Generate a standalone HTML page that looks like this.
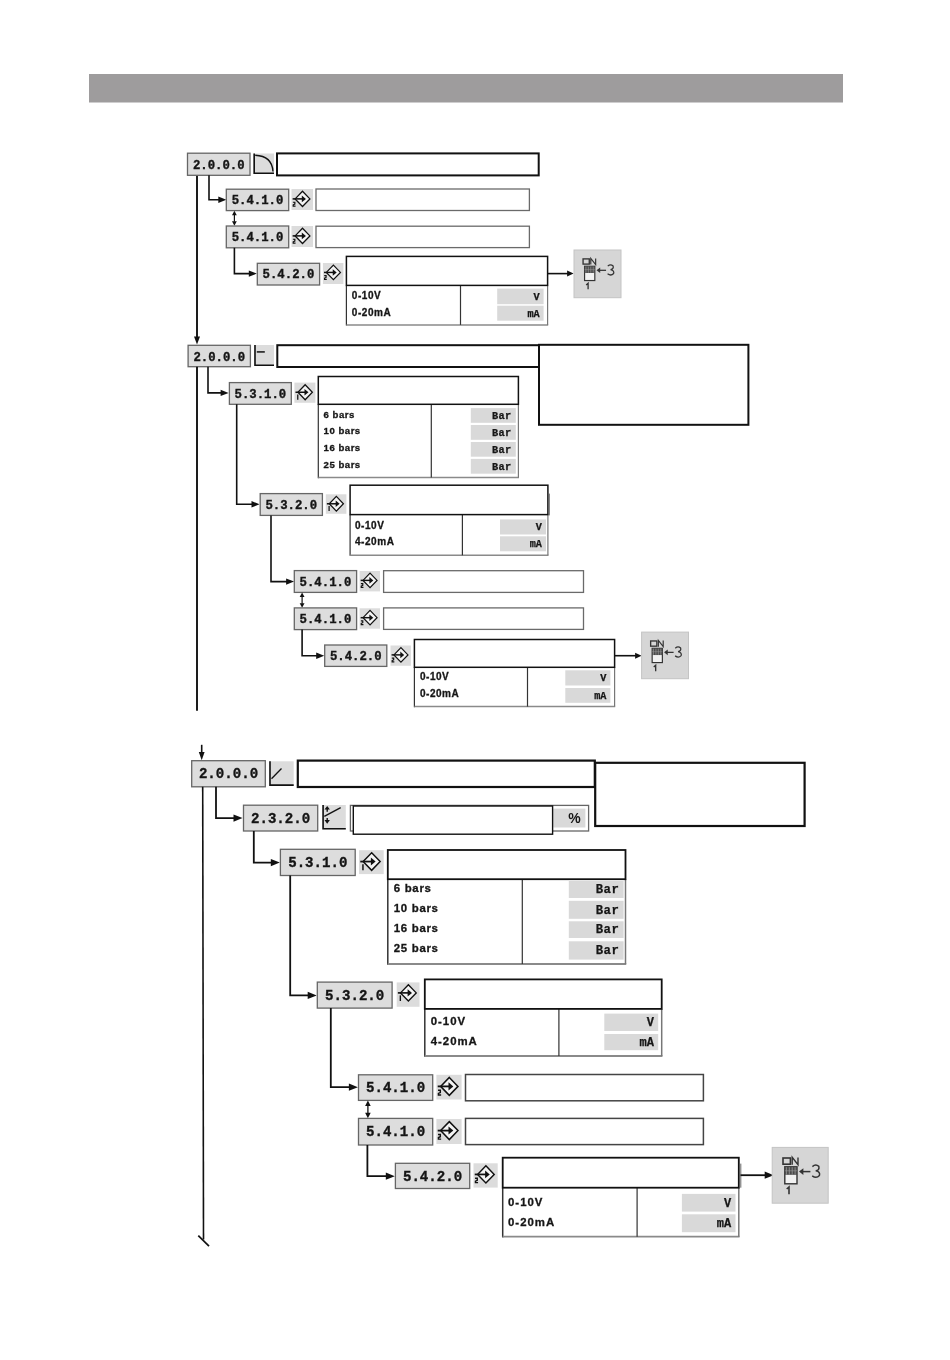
<!DOCTYPE html><html><head><meta charset="utf-8"><style>html,body{margin:0;padding:0;background:#fff;}svg{display:block;will-change:transform;}</style></head><body>
<svg width="950" height="1360" viewBox="0 0 950 1360">
<rect x="0.00" y="0.00" width="950.00" height="1360.00" fill="#ffffff" stroke="none" stroke-width="1.0"/>
<rect x="89.00" y="74.00" width="754.00" height="28.50" fill="#9e9c9d" stroke="none" stroke-width="1.0"/>
<line x1="197.00" y1="175.00" x2="197.00" y2="337.00" stroke="#111" stroke-width="1.9"/>
<polygon points="197.00,344.60 194.00,336.60 200.00,336.60" fill="#111"/>
<rect x="187.50" y="153.20" width="62.50" height="22.10" fill="#dddddd" stroke="#666666" stroke-width="1.3"/>
<text x="218.75" y="168.80" font-family='"Liberation Mono", monospace' font-size="12.3" font-weight="bold" text-anchor="middle" letter-spacing="0.0" fill="#151515" stroke="#151515" stroke-width="0.35">2.0.0.0</text>
<rect x="253.20" y="153.50" width="20.80" height="20.50" fill="#dcdcdc" stroke="none" stroke-width="1.0"/>
<path d="M254.20,153.50 L254.20,173.20 L274.00,173.20" fill="none" stroke="#111" stroke-width="1.6"/>
<path d="M255.20,155.30 Q272.00,156.00 273.00,171.50" fill="none" stroke="#111" stroke-width="1.4"/>
<rect x="277.00" y="153.40" width="261.70" height="22.00" fill="#fff" stroke="#111" stroke-width="2.0"/>
<polyline points="209.00,175.30 209.00,199.80 219.30,199.80" fill="none" stroke="#111" stroke-width="1.6"/>
<polygon points="226.30,199.80 218.30,196.60 218.30,203.00" fill="#111"/>
<rect x="226.30" y="189.20" width="62.40" height="21.40" fill="#dddddd" stroke="#666666" stroke-width="1.3"/>
<text x="257.50" y="204.20" font-family='"Liberation Mono", monospace' font-size="12.3" font-weight="bold" text-anchor="middle" letter-spacing="0.0" fill="#151515" stroke="#151515" stroke-width="0.35">5.4.1.0</text>
<rect x="291.50" y="189.00" width="21.50" height="21.00" fill="#dcdcdc" stroke="none" stroke-width="1.0"/>
<polygon points="302.51,191.24 309.90,198.89 302.51,206.54 295.11,198.89" fill="#f4f4f4" stroke="#111" stroke-width="1.29"/>
<line x1="292.62" y1="198.89" x2="302.68" y2="198.89" stroke="#111" stroke-width="1.548"/>
<polygon points="305.95,198.89 301.82,195.45 301.82,202.33" fill="#111"/>
<path d="M292.88,202.24 L294.85,202.24 L294.85,204.14 L293.22,204.82 L293.22,206.20 L295.54,206.20" fill="none" stroke="#111" stroke-width="1.20"/>
<rect x="316.00" y="189.00" width="213.40" height="21.50" fill="#fff" stroke="#6a6a6a" stroke-width="1.3"/>
<line x1="234.40" y1="214.80" x2="234.40" y2="221.80" stroke="#111" stroke-width="1.2"/>
<polygon points="234.40,210.80 232.00,215.30 236.80,215.30" fill="#111"/>
<polygon points="234.40,225.80 232.00,221.30 236.80,221.30" fill="#111"/>
<rect x="226.30" y="226.00" width="62.40" height="21.80" fill="#dddddd" stroke="#666666" stroke-width="1.3"/>
<text x="257.50" y="241.00" font-family='"Liberation Mono", monospace' font-size="12.3" font-weight="bold" text-anchor="middle" letter-spacing="0.0" fill="#151515" stroke="#151515" stroke-width="0.35">5.4.1.0</text>
<rect x="291.50" y="226.00" width="21.50" height="21.00" fill="#dcdcdc" stroke="none" stroke-width="1.0"/>
<polygon points="302.51,228.24 309.90,235.89 302.51,243.54 295.11,235.89" fill="#f4f4f4" stroke="#111" stroke-width="1.29"/>
<line x1="292.62" y1="235.89" x2="302.68" y2="235.89" stroke="#111" stroke-width="1.548"/>
<polygon points="305.95,235.89 301.82,232.45 301.82,239.33" fill="#111"/>
<path d="M292.88,239.24 L294.85,239.24 L294.85,241.14 L293.22,241.82 L293.22,243.20 L295.54,243.20" fill="none" stroke="#111" stroke-width="1.20"/>
<rect x="316.00" y="226.20" width="213.40" height="21.40" fill="#fff" stroke="#6a6a6a" stroke-width="1.3"/>
<polyline points="234.40,247.80 234.40,273.60 249.80,273.60" fill="none" stroke="#111" stroke-width="1.6"/>
<polygon points="256.80,273.60 248.80,270.40 248.80,276.80" fill="#111"/>
<rect x="257.30" y="263.30" width="62.30" height="21.70" fill="#dddddd" stroke="#666666" stroke-width="1.3"/>
<text x="288.45" y="278.30" font-family='"Liberation Mono", monospace' font-size="12.3" font-weight="bold" text-anchor="middle" letter-spacing="0.0" fill="#151515" stroke="#151515" stroke-width="0.35">5.4.2.0</text>
<rect x="322.90" y="263.00" width="20.50" height="21.00" fill="#dcdcdc" stroke="none" stroke-width="1.0"/>
<polygon points="333.40,265.13 340.45,272.43 333.40,279.73 326.34,272.43" fill="#f4f4f4" stroke="#111" stroke-width="1.23"/>
<line x1="323.97" y1="272.43" x2="333.56" y2="272.43" stroke="#111" stroke-width="1.476"/>
<polygon points="336.68,272.43 332.74,269.15 332.74,275.71" fill="#111"/>
<path d="M324.21,275.63 L326.10,275.63 L326.10,277.43 L324.54,278.09 L324.54,279.40 L326.75,279.40" fill="none" stroke="#111" stroke-width="1.15"/>
<rect x="346.40" y="285.40" width="201.20" height="39.50" fill="#fff" stroke="none" stroke-width="0"/>
<line x1="346.40" y1="285.40" x2="346.40" y2="325.50" stroke="#333" stroke-width="1.2"/>
<line x1="346.40" y1="324.90" x2="548.20" y2="324.90" stroke="#8a8a8a" stroke-width="1.5"/>
<line x1="547.60" y1="285.40" x2="547.60" y2="324.90" stroke="#777" stroke-width="1.2"/>
<line x1="460.50" y1="285.40" x2="460.50" y2="324.90" stroke="#333" stroke-width="1.2"/>
<rect x="346.40" y="256.40" width="201.20" height="29.00" fill="#fff" stroke="#111" stroke-width="1.5"/>
<text x="351.80" y="298.60" font-family='"Liberation Sans", sans-serif' font-size="10.0" font-weight="bold" text-anchor="start" letter-spacing="0.55" fill="#161616" stroke="#161616" stroke-width="0.3">0-10V</text>
<text x="351.80" y="315.60" font-family='"Liberation Sans", sans-serif' font-size="10.0" font-weight="bold" text-anchor="start" letter-spacing="0.55" fill="#161616" stroke="#161616" stroke-width="0.3">0-20mA</text>
<rect x="497.20" y="288.60" width="46.40" height="15.60" fill="#d9d9d9" stroke="none" stroke-width="1.0"/>
<text x="539.30" y="299.83" font-family='"Liberation Mono", monospace' font-size="10.2" font-weight="bold" text-anchor="end" letter-spacing="-0.2" fill="#161616" stroke="#161616" stroke-width="0.25">V</text>
<rect x="497.20" y="305.70" width="46.40" height="15.00" fill="#d9d9d9" stroke="none" stroke-width="1.0"/>
<text x="539.30" y="316.50" font-family='"Liberation Mono", monospace' font-size="10.2" font-weight="bold" text-anchor="end" letter-spacing="-0.2" fill="#161616" stroke="#161616" stroke-width="0.25">mA</text>
<line x1="547.60" y1="273.60" x2="568.00" y2="273.60" stroke="#111" stroke-width="1.6"/>
<polygon points="573.60,273.60 567.10,270.60 567.10,276.60" fill="#111"/>
<rect x="574.00" y="250.00" width="47.00" height="47.70" fill="#d6d6d6" stroke="#c4c4c4" stroke-width="1.0"/>
<g transform="translate(574.00,250.00) scale(0.8393)">
<rect x="10.8" y="10.6" width="7.4" height="6.2" fill="none" stroke="#333" stroke-width="1.6"/>
<path d="M20.0,17.4 L20.0,10.0 L25.8,17.4 L25.8,10.0" fill="none" stroke="#333" stroke-width="1.4"/>
<rect x="12.6" y="19.4" width="12.2" height="17.0" fill="#f2f2f2" stroke="#333" stroke-width="1.4"/>
<rect x="12.6" y="19.4" width="12.2" height="8.0" fill="#4a4a4a"/>
<line x1="14.2" y1="19.8" x2="14.2" y2="27.2" stroke="#9a9a9a" stroke-width="0.8"/>
<line x1="17.1" y1="19.8" x2="17.1" y2="27.2" stroke="#9a9a9a" stroke-width="0.8"/>
<line x1="20.0" y1="19.8" x2="20.0" y2="27.2" stroke="#9a9a9a" stroke-width="0.8"/>
<line x1="22.9" y1="19.8" x2="22.9" y2="27.2" stroke="#9a9a9a" stroke-width="0.8"/>
<line x1="12.6" y1="23.4" x2="24.8" y2="23.4" stroke="#9a9a9a" stroke-width="0.6"/>
<line x1="29.5" y1="24.2" x2="38.2" y2="24.2" stroke="#333" stroke-width="1.5"/>
<polygon points="26.8,24.2 31.2,20.9 31.2,27.5" fill="#333"/>
<path d="M40.2,19.2 Q43.5,16.2 46.6,19.0 Q47.6,22.6 43.6,23.4 Q48.4,24.4 47.2,28.0 Q44.2,31.4 40.0,28.4" fill="none" stroke="#333" stroke-width="1.5"/>
<path d="M14.5,41.6 L16.8,39.6 L16.8,46.8" fill="none" stroke="#333" stroke-width="1.6"/>
</g>
<rect x="188.10" y="345.30" width="62.30" height="21.40" fill="#dddddd" stroke="#666666" stroke-width="1.3"/>
<text x="219.25" y="360.70" font-family='"Liberation Mono", monospace' font-size="12.3" font-weight="bold" text-anchor="middle" letter-spacing="0.0" fill="#151515" stroke="#151515" stroke-width="0.35">2.0.0.0</text>
<rect x="254.00" y="345.00" width="20.00" height="21.00" fill="#dcdcdc" stroke="none" stroke-width="1.0"/>
<path d="M255.00,345.00 L255.00,365.20 L274.00,365.20" fill="none" stroke="#111" stroke-width="1.6"/>
<line x1="256.80" y1="351.90" x2="264.80" y2="351.90" stroke="#333" stroke-width="1.8"/>
<rect x="277.30" y="345.20" width="261.70" height="21.80" fill="#fff" stroke="#111" stroke-width="2.0"/>
<rect x="539.00" y="344.80" width="209.40" height="80.00" fill="#fff" stroke="#111" stroke-width="2.0"/>
<line x1="197.00" y1="366.70" x2="197.00" y2="710.70" stroke="#111" stroke-width="1.9"/>
<polyline points="208.00,366.70 208.00,392.90 221.60,392.90" fill="none" stroke="#111" stroke-width="1.6"/>
<polygon points="228.60,392.90 220.60,389.70 220.60,396.10" fill="#111"/>
<rect x="229.40" y="382.60" width="61.90" height="21.70" fill="#dddddd" stroke="#666666" stroke-width="1.3"/>
<text x="260.35" y="397.80" font-family='"Liberation Mono", monospace' font-size="12.3" font-weight="bold" text-anchor="middle" letter-spacing="0.0" fill="#151515" stroke="#151515" stroke-width="0.35">5.3.1.0</text>
<rect x="294.40" y="382.60" width="21.00" height="20.20" fill="#dcdcdc" stroke="none" stroke-width="1.0"/>
<polygon points="305.15,384.78 312.38,392.26 305.15,399.74 297.93,392.26" fill="#f4f4f4" stroke="#111" stroke-width="1.26"/>
<line x1="295.49" y1="392.26" x2="305.32" y2="392.26" stroke="#111" stroke-width="1.512"/>
<polygon points="308.51,392.26 304.48,388.90 304.48,395.62" fill="#111"/>
<line x1="297.76" y1="394.53" x2="297.76" y2="399.74" stroke="#111" stroke-width="1.26"/>
<rect x="318.30" y="404.30" width="200.10" height="73.30" fill="#fff" stroke="none" stroke-width="0"/>
<line x1="318.30" y1="404.30" x2="318.30" y2="478.20" stroke="#333" stroke-width="1.2"/>
<line x1="318.30" y1="477.60" x2="519.00" y2="477.60" stroke="#8a8a8a" stroke-width="1.5"/>
<line x1="518.40" y1="404.30" x2="518.40" y2="477.60" stroke="#777" stroke-width="1.2"/>
<line x1="431.30" y1="404.30" x2="431.30" y2="477.60" stroke="#333" stroke-width="1.2"/>
<rect x="318.30" y="376.50" width="200.10" height="27.80" fill="#fff" stroke="#111" stroke-width="1.5"/>
<text x="323.60" y="417.80" font-family='"Liberation Sans", sans-serif' font-size="9.6" font-weight="bold" text-anchor="start" letter-spacing="0.5" fill="#161616" stroke="#161616" stroke-width="0.3">6 bars</text>
<text x="323.60" y="434.40" font-family='"Liberation Sans", sans-serif' font-size="9.6" font-weight="bold" text-anchor="start" letter-spacing="0.5" fill="#161616" stroke="#161616" stroke-width="0.3">10 bars</text>
<text x="323.60" y="451.40" font-family='"Liberation Sans", sans-serif' font-size="9.6" font-weight="bold" text-anchor="start" letter-spacing="0.5" fill="#161616" stroke="#161616" stroke-width="0.3">16 bars</text>
<text x="323.60" y="467.60" font-family='"Liberation Sans", sans-serif' font-size="9.6" font-weight="bold" text-anchor="start" letter-spacing="0.5" fill="#161616" stroke="#161616" stroke-width="0.3">25 bars</text>
<rect x="470.80" y="408.10" width="45.00" height="14.70" fill="#d9d9d9" stroke="none" stroke-width="1.0"/>
<text x="511.50" y="418.68" font-family='"Liberation Mono", monospace' font-size="10.3" font-weight="bold" text-anchor="end" letter-spacing="0.3" fill="#161616" stroke="#161616" stroke-width="0.25">Bar</text>
<rect x="470.80" y="425.00" width="45.00" height="14.80" fill="#d9d9d9" stroke="none" stroke-width="1.0"/>
<text x="511.50" y="435.66" font-family='"Liberation Mono", monospace' font-size="10.3" font-weight="bold" text-anchor="end" letter-spacing="0.3" fill="#161616" stroke="#161616" stroke-width="0.25">Bar</text>
<rect x="470.80" y="442.00" width="45.00" height="14.70" fill="#d9d9d9" stroke="none" stroke-width="1.0"/>
<text x="511.50" y="452.58" font-family='"Liberation Mono", monospace' font-size="10.3" font-weight="bold" text-anchor="end" letter-spacing="0.3" fill="#161616" stroke="#161616" stroke-width="0.25">Bar</text>
<rect x="470.80" y="458.90" width="45.00" height="14.80" fill="#d9d9d9" stroke="none" stroke-width="1.0"/>
<text x="511.50" y="469.56" font-family='"Liberation Mono", monospace' font-size="10.3" font-weight="bold" text-anchor="end" letter-spacing="0.3" fill="#161616" stroke="#161616" stroke-width="0.25">Bar</text>
<polyline points="236.70,404.30 236.70,504.30 252.50,504.30" fill="none" stroke="#111" stroke-width="1.6"/>
<polygon points="259.50,504.30 251.50,501.10 251.50,507.50" fill="#111"/>
<rect x="260.20" y="493.60" width="62.20" height="21.80" fill="#dddddd" stroke="#666666" stroke-width="1.3"/>
<text x="291.30" y="508.80" font-family='"Liberation Mono", monospace' font-size="12.3" font-weight="bold" text-anchor="middle" letter-spacing="0.0" fill="#151515" stroke="#151515" stroke-width="0.35">5.3.2.0</text>
<rect x="325.80" y="494.30" width="20.60" height="19.50" fill="#dcdcdc" stroke="none" stroke-width="1.0"/>
<polygon points="336.35,496.44 343.43,503.78 336.35,511.11 329.26,503.78" fill="#f4f4f4" stroke="#111" stroke-width="1.24"/>
<line x1="326.87" y1="503.78" x2="336.51" y2="503.78" stroke="#111" stroke-width="1.4831999999999976"/>
<polygon points="339.64,503.78 335.69,500.48 335.69,507.07" fill="#111"/>
<line x1="329.10" y1="506.00" x2="329.10" y2="511.11" stroke="#111" stroke-width="1.235999999999998"/>
<line x1="549.40" y1="493.60" x2="549.40" y2="515.40" stroke="#777" stroke-width="1.0"/>
<rect x="350.10" y="514.60" width="197.80" height="40.60" fill="#fff" stroke="none" stroke-width="0"/>
<line x1="350.10" y1="514.60" x2="350.10" y2="555.80" stroke="#333" stroke-width="1.2"/>
<line x1="350.10" y1="555.20" x2="548.50" y2="555.20" stroke="#8a8a8a" stroke-width="1.5"/>
<line x1="547.90" y1="514.60" x2="547.90" y2="555.20" stroke="#777" stroke-width="1.2"/>
<line x1="462.40" y1="514.60" x2="462.40" y2="555.20" stroke="#333" stroke-width="1.2"/>
<rect x="350.10" y="485.20" width="197.80" height="29.40" fill="#fff" stroke="#111" stroke-width="1.5"/>
<text x="355.00" y="528.90" font-family='"Liberation Sans", sans-serif' font-size="10.0" font-weight="bold" text-anchor="start" letter-spacing="0.55" fill="#161616" stroke="#161616" stroke-width="0.3">0-10V</text>
<text x="355.00" y="545.40" font-family='"Liberation Sans", sans-serif' font-size="10.0" font-weight="bold" text-anchor="start" letter-spacing="0.55" fill="#161616" stroke="#161616" stroke-width="0.3">4-20mA</text>
<rect x="500.00" y="519.40" width="46.00" height="15.10" fill="#d9d9d9" stroke="none" stroke-width="1.0"/>
<text x="541.70" y="530.27" font-family='"Liberation Mono", monospace' font-size="10.2" font-weight="bold" text-anchor="end" letter-spacing="-0.2" fill="#161616" stroke="#161616" stroke-width="0.25">V</text>
<rect x="500.00" y="536.30" width="46.00" height="15.00" fill="#d9d9d9" stroke="none" stroke-width="1.0"/>
<text x="541.70" y="547.10" font-family='"Liberation Mono", monospace' font-size="10.2" font-weight="bold" text-anchor="end" letter-spacing="-0.2" fill="#161616" stroke="#161616" stroke-width="0.25">mA</text>
<polyline points="271.00,515.40 271.00,581.60 287.10,581.60" fill="none" stroke="#111" stroke-width="1.6"/>
<polygon points="294.10,581.60 286.10,578.40 286.10,584.80" fill="#111"/>
<rect x="294.30" y="570.60" width="62.30" height="21.80" fill="#dddddd" stroke="#666666" stroke-width="1.3"/>
<text x="325.45" y="585.60" font-family='"Liberation Mono", monospace' font-size="12.3" font-weight="bold" text-anchor="middle" letter-spacing="0.0" fill="#151515" stroke="#151515" stroke-width="0.35">5.4.1.0</text>
<rect x="359.60" y="571.00" width="20.40" height="20.40" fill="#dcdcdc" stroke="none" stroke-width="1.0"/>
<polygon points="370.04,573.12 377.06,580.38 370.04,587.65 363.03,580.38" fill="#f4f4f4" stroke="#111" stroke-width="1.22"/>
<line x1="360.66" y1="580.38" x2="370.21" y2="580.38" stroke="#111" stroke-width="1.4687999999999983"/>
<polygon points="373.31,580.38 369.39,577.12 369.39,583.65" fill="#111"/>
<path d="M360.91,583.57 L362.78,583.57 L362.78,585.36 L361.23,586.01 L361.23,587.32 L363.44,587.32" fill="none" stroke="#111" stroke-width="1.14"/>
<rect x="383.60" y="570.70" width="199.90" height="21.70" fill="#fff" stroke="#6a6a6a" stroke-width="1.3"/>
<line x1="302.10" y1="596.60" x2="302.10" y2="603.70" stroke="#111" stroke-width="1.2"/>
<polygon points="302.10,592.60 299.70,597.10 304.50,597.10" fill="#111"/>
<polygon points="302.10,607.70 299.70,603.20 304.50,603.20" fill="#111"/>
<rect x="294.30" y="607.90" width="62.30" height="21.70" fill="#dddddd" stroke="#666666" stroke-width="1.3"/>
<text x="325.45" y="622.90" font-family='"Liberation Mono", monospace' font-size="12.3" font-weight="bold" text-anchor="middle" letter-spacing="0.0" fill="#151515" stroke="#151515" stroke-width="0.35">5.4.1.0</text>
<rect x="359.60" y="608.30" width="20.40" height="20.40" fill="#dcdcdc" stroke="none" stroke-width="1.0"/>
<polygon points="370.04,610.42 377.06,617.68 370.04,624.95 363.03,617.68" fill="#f4f4f4" stroke="#111" stroke-width="1.22"/>
<line x1="360.66" y1="617.68" x2="370.21" y2="617.68" stroke="#111" stroke-width="1.4687999999999983"/>
<polygon points="373.31,617.68 369.39,614.42 369.39,620.95" fill="#111"/>
<path d="M360.91,620.87 L362.78,620.87 L362.78,622.66 L361.23,623.31 L361.23,624.62 L363.44,624.62" fill="none" stroke="#111" stroke-width="1.14"/>
<rect x="383.60" y="607.90" width="199.90" height="21.50" fill="#fff" stroke="#6a6a6a" stroke-width="1.3"/>
<polyline points="302.10,629.60 302.10,655.80 317.20,655.80" fill="none" stroke="#111" stroke-width="1.6"/>
<polygon points="324.20,655.80 316.20,652.60 316.20,659.00" fill="#111"/>
<rect x="324.70" y="645.00" width="62.10" height="21.40" fill="#dddddd" stroke="#666666" stroke-width="1.3"/>
<text x="355.75" y="660.00" font-family='"Liberation Mono", monospace' font-size="12.3" font-weight="bold" text-anchor="middle" letter-spacing="0.0" fill="#151515" stroke="#151515" stroke-width="0.35">5.4.2.0</text>
<rect x="390.50" y="645.50" width="20.40" height="20.30" fill="#dcdcdc" stroke="none" stroke-width="1.0"/>
<polygon points="400.94,647.62 407.96,654.88 400.94,662.15 393.93,654.88" fill="#f4f4f4" stroke="#111" stroke-width="1.22"/>
<line x1="391.56" y1="654.88" x2="401.11" y2="654.88" stroke="#111" stroke-width="1.4687999999999983"/>
<polygon points="404.21,654.88 400.29,651.62 400.29,658.15" fill="#111"/>
<path d="M391.81,658.07 L393.68,658.07 L393.68,659.86 L392.13,660.51 L392.13,661.82 L394.34,661.82" fill="none" stroke="#111" stroke-width="1.14"/>
<rect x="414.40" y="667.30" width="200.20" height="39.30" fill="#fff" stroke="none" stroke-width="0"/>
<line x1="414.40" y1="667.30" x2="414.40" y2="707.20" stroke="#333" stroke-width="1.2"/>
<line x1="414.40" y1="706.60" x2="615.20" y2="706.60" stroke="#8a8a8a" stroke-width="1.5"/>
<line x1="614.60" y1="667.30" x2="614.60" y2="706.60" stroke="#777" stroke-width="1.2"/>
<line x1="527.50" y1="667.30" x2="527.50" y2="706.60" stroke="#333" stroke-width="1.2"/>
<rect x="414.40" y="639.50" width="200.20" height="27.80" fill="#fff" stroke="#111" stroke-width="1.5"/>
<text x="419.90" y="680.10" font-family='"Liberation Sans", sans-serif' font-size="10.0" font-weight="bold" text-anchor="start" letter-spacing="0.55" fill="#161616" stroke="#161616" stroke-width="0.3">0-10V</text>
<text x="419.90" y="697.00" font-family='"Liberation Sans", sans-serif' font-size="10.0" font-weight="bold" text-anchor="start" letter-spacing="0.55" fill="#161616" stroke="#161616" stroke-width="0.3">0-20mA</text>
<rect x="565.30" y="670.30" width="45.10" height="15.20" fill="#d9d9d9" stroke="none" stroke-width="1.0"/>
<text x="606.10" y="681.24" font-family='"Liberation Mono", monospace' font-size="10.2" font-weight="bold" text-anchor="end" letter-spacing="-0.2" fill="#161616" stroke="#161616" stroke-width="0.25">V</text>
<rect x="565.30" y="688.00" width="45.10" height="14.80" fill="#d9d9d9" stroke="none" stroke-width="1.0"/>
<text x="606.10" y="698.66" font-family='"Liberation Mono", monospace' font-size="10.2" font-weight="bold" text-anchor="end" letter-spacing="-0.2" fill="#161616" stroke="#161616" stroke-width="0.25">mA</text>
<line x1="614.60" y1="655.70" x2="636.00" y2="655.70" stroke="#111" stroke-width="1.6"/>
<polygon points="641.60,655.70 635.10,652.70 635.10,658.70" fill="#111"/>
<rect x="641.60" y="632.10" width="46.90" height="46.60" fill="#d6d6d6" stroke="#c4c4c4" stroke-width="1.0"/>
<g transform="translate(641.60,632.10) scale(0.8375)">
<rect x="10.8" y="10.6" width="7.4" height="6.2" fill="none" stroke="#333" stroke-width="1.6"/>
<path d="M20.0,17.4 L20.0,10.0 L25.8,17.4 L25.8,10.0" fill="none" stroke="#333" stroke-width="1.4"/>
<rect x="12.6" y="19.4" width="12.2" height="17.0" fill="#f2f2f2" stroke="#333" stroke-width="1.4"/>
<rect x="12.6" y="19.4" width="12.2" height="8.0" fill="#4a4a4a"/>
<line x1="14.2" y1="19.8" x2="14.2" y2="27.2" stroke="#9a9a9a" stroke-width="0.8"/>
<line x1="17.1" y1="19.8" x2="17.1" y2="27.2" stroke="#9a9a9a" stroke-width="0.8"/>
<line x1="20.0" y1="19.8" x2="20.0" y2="27.2" stroke="#9a9a9a" stroke-width="0.8"/>
<line x1="22.9" y1="19.8" x2="22.9" y2="27.2" stroke="#9a9a9a" stroke-width="0.8"/>
<line x1="12.6" y1="23.4" x2="24.8" y2="23.4" stroke="#9a9a9a" stroke-width="0.6"/>
<line x1="29.5" y1="24.2" x2="38.2" y2="24.2" stroke="#333" stroke-width="1.5"/>
<polygon points="26.8,24.2 31.2,20.9 31.2,27.5" fill="#333"/>
<path d="M40.2,19.2 Q43.5,16.2 46.6,19.0 Q47.6,22.6 43.6,23.4 Q48.4,24.4 47.2,28.0 Q44.2,31.4 40.0,28.4" fill="none" stroke="#333" stroke-width="1.5"/>
<path d="M14.5,41.6 L16.8,39.6 L16.8,46.8" fill="none" stroke="#333" stroke-width="1.6"/>
</g>
<line x1="201.70" y1="744.80" x2="201.70" y2="754.00" stroke="#111" stroke-width="1.6"/>
<polygon points="201.70,760.30 198.80,751.90 204.60,751.90" fill="#111"/>
<rect x="191.70" y="760.70" width="73.60" height="26.10" fill="#dddddd" stroke="#666666" stroke-width="1.3"/>
<text x="228.50" y="778.30" font-family='"Liberation Mono", monospace' font-size="14.1" font-weight="bold" text-anchor="middle" letter-spacing="0.0" fill="#151515" stroke="#151515" stroke-width="0.35">2.0.0.0</text>
<rect x="269.00" y="761.30" width="24.70" height="24.60" fill="#dcdcdc" stroke="none" stroke-width="1.0"/>
<path d="M270.00,761.30 L270.00,785.10 L293.70,785.10" fill="none" stroke="#111" stroke-width="1.6"/>
<line x1="271.50" y1="778.80" x2="281.50" y2="768.50" stroke="#111" stroke-width="1.3"/>
<rect x="297.80" y="760.60" width="297.00" height="26.40" fill="#fff" stroke="#111" stroke-width="2.2"/>
<rect x="595.20" y="762.80" width="209.40" height="63.20" fill="#fff" stroke="#111" stroke-width="2.2"/>
<line x1="202.70" y1="786.80" x2="203.50" y2="1239.40" stroke="#111" stroke-width="1.6"/>
<line x1="198.30" y1="1235.60" x2="209.00" y2="1246.20" stroke="#111" stroke-width="1.7"/>
<polyline points="216.00,786.80 216.00,818.10 234.50,818.10" fill="none" stroke="#111" stroke-width="1.8"/>
<polygon points="242.50,818.10 233.50,814.50 233.50,821.70" fill="#111"/>
<rect x="243.50" y="805.20" width="74.20" height="25.80" fill="#dddddd" stroke="#666666" stroke-width="1.3"/>
<text x="280.60" y="822.50" font-family='"Liberation Mono", monospace' font-size="14.1" font-weight="bold" text-anchor="middle" letter-spacing="0.0" fill="#151515" stroke="#151515" stroke-width="0.35">2.3.2.0</text>
<rect x="322.10" y="805.00" width="23.70" height="24.50" fill="#dcdcdc" stroke="none" stroke-width="1.0"/>
<path d="M323.10,805.00 L323.10,828.70 L345.80,828.70" fill="none" stroke="#111" stroke-width="1.6"/>
<line x1="324.30" y1="816.30" x2="340.70" y2="807.70" stroke="#111" stroke-width="1.4"/>
<line x1="327.20" y1="809.00" x2="327.20" y2="811.70" stroke="#111" stroke-width="1.4"/>
<polygon points="327.20,806.00 324.50,809.60 329.90,809.60" fill="#111"/>
<line x1="327.20" y1="818.00" x2="327.20" y2="820.50" stroke="#111" stroke-width="1.4"/>
<polygon points="327.20,823.80 324.50,820.00 329.90,820.00" fill="#111"/>
<rect x="350.40" y="805.40" width="238.20" height="25.60" fill="#fff" stroke="#666" stroke-width="1.3"/>
<rect x="553.20" y="808.60" width="32.20" height="18.90" fill="#d9d9d9" stroke="none" stroke-width="1.0"/>
<rect x="353.30" y="806.00" width="199.30" height="28.20" fill="#fff" stroke="#111" stroke-width="1.4"/>
<text x="580.60" y="823.20" font-family='"Liberation Sans", sans-serif' font-size="14" font-weight="bold" text-anchor="end" letter-spacing="0" fill="#151515" >%</text>
<polyline points="253.80,831.00 253.80,862.60 271.80,862.60" fill="none" stroke="#111" stroke-width="1.8"/>
<polygon points="279.80,862.60 270.80,859.00 270.80,866.20" fill="#111"/>
<rect x="280.40" y="849.30" width="74.80" height="26.20" fill="#dddddd" stroke="#666666" stroke-width="1.3"/>
<text x="317.80" y="866.90" font-family='"Liberation Mono", monospace' font-size="14.1" font-weight="bold" text-anchor="middle" letter-spacing="0.0" fill="#151515" stroke="#151515" stroke-width="0.35">5.3.1.0</text>
<rect x="359.00" y="850.20" width="24.70" height="23.90" fill="#dcdcdc" stroke="none" stroke-width="1.0"/>
<polygon points="371.65,852.77 380.14,861.56 371.65,870.36 363.15,861.56" fill="#f4f4f4" stroke="#111" stroke-width="1.48"/>
<line x1="360.28" y1="861.56" x2="371.84" y2="861.56" stroke="#111" stroke-width="1.7783999999999993"/>
<polygon points="375.60,861.56 370.86,857.61 370.86,865.51" fill="#111"/>
<line x1="362.95" y1="864.23" x2="362.95" y2="870.36" stroke="#111" stroke-width="1.4819999999999993"/>
<rect x="387.80" y="879.20" width="237.70" height="84.80" fill="#fff" stroke="none" stroke-width="0"/>
<line x1="387.80" y1="879.20" x2="387.80" y2="964.75" stroke="#333" stroke-width="1.5"/>
<line x1="387.80" y1="964.00" x2="626.25" y2="964.00" stroke="#8a8a8a" stroke-width="1.8"/>
<line x1="625.50" y1="879.20" x2="625.50" y2="964.00" stroke="#777" stroke-width="1.5"/>
<line x1="522.30" y1="879.20" x2="522.30" y2="964.00" stroke="#333" stroke-width="1.2"/>
<rect x="387.80" y="850.00" width="237.70" height="29.20" fill="#fff" stroke="#111" stroke-width="1.8"/>
<text x="393.80" y="892.10" font-family='"Liberation Sans", sans-serif' font-size="11.4" font-weight="bold" text-anchor="start" letter-spacing="0.7" fill="#161616" stroke="#161616" stroke-width="0.3">6 bars</text>
<text x="393.80" y="911.50" font-family='"Liberation Sans", sans-serif' font-size="11.4" font-weight="bold" text-anchor="start" letter-spacing="0.7" fill="#161616" stroke="#161616" stroke-width="0.3">10 bars</text>
<text x="393.80" y="932.30" font-family='"Liberation Sans", sans-serif' font-size="11.4" font-weight="bold" text-anchor="start" letter-spacing="0.7" fill="#161616" stroke="#161616" stroke-width="0.3">16 bars</text>
<text x="393.80" y="951.80" font-family='"Liberation Sans", sans-serif' font-size="11.4" font-weight="bold" text-anchor="start" letter-spacing="0.7" fill="#161616" stroke="#161616" stroke-width="0.3">25 bars</text>
<rect x="568.80" y="881.00" width="54.80" height="17.00" fill="#d9d9d9" stroke="none" stroke-width="1.0"/>
<text x="619.30" y="893.24" font-family='"Liberation Mono", monospace' font-size="12.3" font-weight="bold" text-anchor="end" letter-spacing="0.5" fill="#161616" stroke="#161616" stroke-width="0.25">Bar</text>
<rect x="568.80" y="900.80" width="54.80" height="18.00" fill="#d9d9d9" stroke="none" stroke-width="1.0"/>
<text x="619.30" y="913.76" font-family='"Liberation Mono", monospace' font-size="12.3" font-weight="bold" text-anchor="end" letter-spacing="0.5" fill="#161616" stroke="#161616" stroke-width="0.25">Bar</text>
<rect x="568.80" y="921.30" width="54.80" height="16.70" fill="#d9d9d9" stroke="none" stroke-width="1.0"/>
<text x="619.30" y="933.32" font-family='"Liberation Mono", monospace' font-size="12.3" font-weight="bold" text-anchor="end" letter-spacing="0.5" fill="#161616" stroke="#161616" stroke-width="0.25">Bar</text>
<rect x="568.80" y="941.30" width="54.80" height="18.30" fill="#d9d9d9" stroke="none" stroke-width="1.0"/>
<text x="619.30" y="954.48" font-family='"Liberation Mono", monospace' font-size="12.3" font-weight="bold" text-anchor="end" letter-spacing="0.5" fill="#161616" stroke="#161616" stroke-width="0.25">Bar</text>
<polyline points="290.20,875.50 290.20,995.40 308.70,995.40" fill="none" stroke="#111" stroke-width="1.8"/>
<polygon points="316.70,995.40 307.70,991.80 307.70,999.00" fill="#111"/>
<rect x="317.30" y="982.10" width="74.80" height="26.00" fill="#dddddd" stroke="#666666" stroke-width="1.3"/>
<text x="354.70" y="999.70" font-family='"Liberation Mono", monospace' font-size="14.1" font-weight="bold" text-anchor="middle" letter-spacing="0.0" fill="#151515" stroke="#151515" stroke-width="0.35">5.3.2.0</text>
<rect x="396.70" y="982.40" width="22.80" height="24.40" fill="#dcdcdc" stroke="none" stroke-width="1.0"/>
<polygon points="408.37,984.77 416.22,992.89 408.37,1001.00 400.53,992.89" fill="#f4f4f4" stroke="#111" stroke-width="1.37"/>
<line x1="397.89" y1="992.89" x2="408.56" y2="992.89" stroke="#111" stroke-width="1.6416000000000008"/>
<polygon points="412.02,992.89 407.64,989.24 407.64,996.54" fill="#111"/>
<line x1="400.35" y1="995.35" x2="400.35" y2="1001.00" stroke="#111" stroke-width="1.3680000000000008"/>
<rect x="424.80" y="1008.90" width="236.90" height="47.10" fill="#fff" stroke="none" stroke-width="0"/>
<line x1="424.80" y1="1008.90" x2="424.80" y2="1056.75" stroke="#333" stroke-width="1.5"/>
<line x1="424.80" y1="1056.00" x2="662.45" y2="1056.00" stroke="#8a8a8a" stroke-width="1.8"/>
<line x1="661.70" y1="1008.90" x2="661.70" y2="1056.00" stroke="#777" stroke-width="1.5"/>
<line x1="558.90" y1="1008.90" x2="558.90" y2="1056.00" stroke="#333" stroke-width="1.2"/>
<rect x="424.80" y="979.40" width="236.90" height="29.50" fill="#fff" stroke="#111" stroke-width="1.8"/>
<text x="430.70" y="1025.10" font-family='"Liberation Sans", sans-serif' font-size="11.4" font-weight="bold" text-anchor="start" letter-spacing="1.0" fill="#161616" stroke="#161616" stroke-width="0.3">0-10V</text>
<text x="430.70" y="1044.60" font-family='"Liberation Sans", sans-serif' font-size="11.4" font-weight="bold" text-anchor="start" letter-spacing="1.0" fill="#161616" stroke="#161616" stroke-width="0.3">4-20mA</text>
<rect x="604.30" y="1013.60" width="53.90" height="17.40" fill="#d9d9d9" stroke="none" stroke-width="1.0"/>
<text x="653.90" y="1026.13" font-family='"Liberation Mono", monospace' font-size="12.0" font-weight="bold" text-anchor="end" letter-spacing="0.0" fill="#161616" stroke="#161616" stroke-width="0.25">V</text>
<rect x="604.30" y="1034.00" width="53.90" height="16.20" fill="#d9d9d9" stroke="none" stroke-width="1.0"/>
<text x="653.90" y="1045.66" font-family='"Liberation Mono", monospace' font-size="12.0" font-weight="bold" text-anchor="end" letter-spacing="0.0" fill="#161616" stroke="#161616" stroke-width="0.25">mA</text>
<polyline points="330.80,1008.10 330.80,1087.20 349.90,1087.20" fill="none" stroke="#111" stroke-width="1.8"/>
<polygon points="357.90,1087.20 348.90,1083.60 348.90,1090.80" fill="#111"/>
<rect x="358.50" y="1074.80" width="74.20" height="25.60" fill="#dddddd" stroke="#666666" stroke-width="1.3"/>
<text x="395.60" y="1092.40" font-family='"Liberation Mono", monospace' font-size="14.1" font-weight="bold" text-anchor="middle" letter-spacing="0.0" fill="#151515" stroke="#151515" stroke-width="0.35">5.4.1.0</text>
<rect x="436.40" y="1074.80" width="25.20" height="24.70" fill="#dcdcdc" stroke="none" stroke-width="1.0"/>
<polygon points="449.30,1077.42 457.97,1086.39 449.30,1095.36 440.63,1086.39" fill="#f4f4f4" stroke="#111" stroke-width="1.51"/>
<line x1="437.71" y1="1086.39" x2="449.50" y2="1086.39" stroke="#111" stroke-width="1.8144000000000033"/>
<polygon points="453.33,1086.39 448.50,1082.36 448.50,1090.42" fill="#111"/>
<path d="M438.01,1090.32 L440.33,1090.32 L440.33,1092.54 L438.42,1093.35 L438.42,1094.96 L441.14,1094.96" fill="none" stroke="#111" stroke-width="1.41"/>
<rect x="465.50" y="1074.50" width="237.90" height="26.30" fill="#fff" stroke="#444" stroke-width="1.5"/>
<line x1="367.90" y1="1105.60" x2="367.90" y2="1113.20" stroke="#111" stroke-width="1.3"/>
<polygon points="367.90,1100.60 365.10,1106.10 370.70,1106.10" fill="#111"/>
<polygon points="367.90,1118.20 365.10,1112.70 370.70,1112.70" fill="#111"/>
<rect x="358.50" y="1118.40" width="74.20" height="26.60" fill="#dddddd" stroke="#666666" stroke-width="1.3"/>
<text x="395.60" y="1136.00" font-family='"Liberation Mono", monospace' font-size="14.1" font-weight="bold" text-anchor="middle" letter-spacing="0.0" fill="#151515" stroke="#151515" stroke-width="0.35">5.4.1.0</text>
<rect x="436.40" y="1119.00" width="25.20" height="25.00" fill="#dcdcdc" stroke="none" stroke-width="1.0"/>
<polygon points="449.30,1121.62 457.97,1130.59 449.30,1139.56 440.63,1130.59" fill="#f4f4f4" stroke="#111" stroke-width="1.51"/>
<line x1="437.71" y1="1130.59" x2="449.50" y2="1130.59" stroke="#111" stroke-width="1.8144000000000033"/>
<polygon points="453.33,1130.59 448.50,1126.56 448.50,1134.62" fill="#111"/>
<path d="M438.01,1134.52 L440.33,1134.52 L440.33,1136.74 L438.42,1137.55 L438.42,1139.16 L441.14,1139.16" fill="none" stroke="#111" stroke-width="1.41"/>
<rect x="465.50" y="1118.40" width="237.90" height="26.20" fill="#fff" stroke="#444" stroke-width="1.5"/>
<polyline points="367.40,1145.00 367.40,1176.20 386.80,1176.20" fill="none" stroke="#111" stroke-width="1.8"/>
<polygon points="394.80,1176.20 385.80,1172.60 385.80,1179.80" fill="#111"/>
<rect x="395.40" y="1163.30" width="74.30" height="25.20" fill="#dddddd" stroke="#666666" stroke-width="1.3"/>
<text x="432.55" y="1180.70" font-family='"Liberation Mono", monospace' font-size="14.1" font-weight="bold" text-anchor="middle" letter-spacing="0.0" fill="#151515" stroke="#151515" stroke-width="0.35">5.4.2.0</text>
<rect x="473.50" y="1163.30" width="24.20" height="24.30" fill="#dcdcdc" stroke="none" stroke-width="1.0"/>
<polygon points="485.89,1165.82 494.22,1174.43 485.89,1183.05 477.57,1174.43" fill="#f4f4f4" stroke="#111" stroke-width="1.45"/>
<line x1="474.76" y1="1174.43" x2="486.08" y2="1174.43" stroke="#111" stroke-width="1.7423999999999993"/>
<polygon points="489.76,1174.43 485.12,1170.56 485.12,1178.30" fill="#111"/>
<path d="M475.05,1178.21 L477.28,1178.21 L477.28,1180.34 L475.44,1181.11 L475.44,1182.66 L478.05,1182.66" fill="none" stroke="#111" stroke-width="1.36"/>
<line x1="740.80" y1="1163.60" x2="740.80" y2="1187.70" stroke="#666" stroke-width="1.0"/>
<rect x="502.70" y="1187.70" width="236.10" height="49.00" fill="#fff" stroke="none" stroke-width="0"/>
<line x1="502.70" y1="1187.70" x2="502.70" y2="1237.45" stroke="#333" stroke-width="1.5"/>
<line x1="502.70" y1="1236.70" x2="739.55" y2="1236.70" stroke="#8a8a8a" stroke-width="1.8"/>
<line x1="738.80" y1="1187.70" x2="738.80" y2="1236.70" stroke="#777" stroke-width="1.5"/>
<line x1="637.10" y1="1187.70" x2="637.10" y2="1236.70" stroke="#333" stroke-width="1.2"/>
<rect x="502.70" y="1157.70" width="236.10" height="30.00" fill="#fff" stroke="#111" stroke-width="1.8"/>
<text x="508.00" y="1206.30" font-family='"Liberation Sans", sans-serif' font-size="11.4" font-weight="bold" text-anchor="start" letter-spacing="1.0" fill="#161616" stroke="#161616" stroke-width="0.3">0-10V</text>
<text x="508.00" y="1225.50" font-family='"Liberation Sans", sans-serif' font-size="11.4" font-weight="bold" text-anchor="start" letter-spacing="1.0" fill="#161616" stroke="#161616" stroke-width="0.3">0-20mA</text>
<rect x="681.90" y="1193.90" width="53.60" height="17.70" fill="#d9d9d9" stroke="none" stroke-width="1.0"/>
<text x="731.20" y="1206.64" font-family='"Liberation Mono", monospace' font-size="12.0" font-weight="bold" text-anchor="end" letter-spacing="0.0" fill="#161616" stroke="#161616" stroke-width="0.25">V</text>
<rect x="681.90" y="1214.30" width="53.60" height="17.90" fill="#d9d9d9" stroke="none" stroke-width="1.0"/>
<text x="731.20" y="1227.19" font-family='"Liberation Mono", monospace' font-size="12.0" font-weight="bold" text-anchor="end" letter-spacing="0.0" fill="#161616" stroke="#161616" stroke-width="0.25">mA</text>
<line x1="740.50" y1="1175.20" x2="765.00" y2="1175.20" stroke="#111" stroke-width="1.8"/>
<polygon points="773.70,1175.20 764.70,1171.60 764.70,1178.80" fill="#111"/>
<rect x="772.20" y="1147.40" width="56.00" height="55.80" fill="#d6d6d6" stroke="#c4c4c4" stroke-width="1.0"/>
<g transform="translate(772.20,1147.40) scale(1.0000)">
<rect x="10.8" y="10.6" width="7.4" height="6.2" fill="none" stroke="#333" stroke-width="1.6"/>
<path d="M20.0,17.4 L20.0,10.0 L25.8,17.4 L25.8,10.0" fill="none" stroke="#333" stroke-width="1.4"/>
<rect x="12.6" y="19.4" width="12.2" height="17.0" fill="#f2f2f2" stroke="#333" stroke-width="1.4"/>
<rect x="12.6" y="19.4" width="12.2" height="8.0" fill="#4a4a4a"/>
<line x1="14.2" y1="19.8" x2="14.2" y2="27.2" stroke="#9a9a9a" stroke-width="0.8"/>
<line x1="17.1" y1="19.8" x2="17.1" y2="27.2" stroke="#9a9a9a" stroke-width="0.8"/>
<line x1="20.0" y1="19.8" x2="20.0" y2="27.2" stroke="#9a9a9a" stroke-width="0.8"/>
<line x1="22.9" y1="19.8" x2="22.9" y2="27.2" stroke="#9a9a9a" stroke-width="0.8"/>
<line x1="12.6" y1="23.4" x2="24.8" y2="23.4" stroke="#9a9a9a" stroke-width="0.6"/>
<line x1="29.5" y1="24.2" x2="38.2" y2="24.2" stroke="#333" stroke-width="1.5"/>
<polygon points="26.8,24.2 31.2,20.9 31.2,27.5" fill="#333"/>
<path d="M40.2,19.2 Q43.5,16.2 46.6,19.0 Q47.6,22.6 43.6,23.4 Q48.4,24.4 47.2,28.0 Q44.2,31.4 40.0,28.4" fill="none" stroke="#333" stroke-width="1.5"/>
<path d="M14.5,41.6 L16.8,39.6 L16.8,46.8" fill="none" stroke="#333" stroke-width="1.6"/>
</g>
</svg></body></html>
